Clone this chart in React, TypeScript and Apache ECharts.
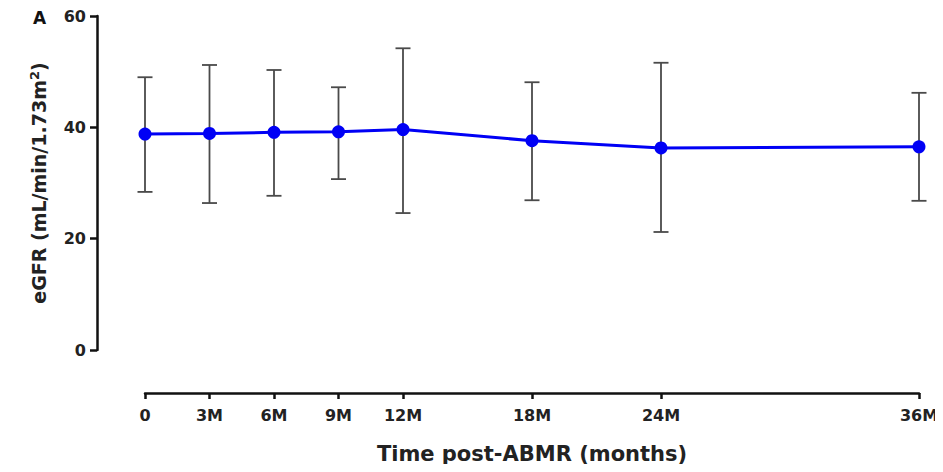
import React, { useEffect, useRef } from "react";
import * as echarts from "echarts";

const months = [0, 3, 6, 9, 12, 18, 24, 36];
const tickLabels: Record<number, string> = { 0: "0", 3: "3M", 6: "6M", 9: "9M", 12: "12M", 18: "18M", 24: "24M", 36: "36M" };
const meanValues = [38.8, 38.9, 39.1, 39.2, 39.6, 37.6, 36.3, 36.5];
const upperValues = [49.0, 51.2, 50.3, 47.2, 54.2, 48.1, 51.6, 46.2];
const lowerValues = [28.4, 26.4, 27.7, 30.7, 24.6, 26.9, 21.2, 26.8];
const yTicks = [0, 20, 40, 60];

export default function App() {
  const ref = useRef<HTMLDivElement>(null);
  useEffect(() => {
    if (!ref.current) return;
    const chart = echarts.init(ref.current, undefined, { renderer: "svg" });
    const font = "'DejaVu Sans', sans-serif";
    const axisColor = "#111";
    const textColor = "#222";
    const errData = months.map((m, i) => [m, lowerValues[i], upperValues[i]]);
    const hidden = {
      axisLine: { show: false },
      axisTick: { show: false },
      axisLabel: { show: false },
      splitLine: { show: false },
    };
    chart.setOption({
      animation: false,
      backgroundColor: "#fff",
      grid: [
        { left: 145, right: 24, top: 16, bottom: 122, containLabel: false },
        { left: 97, width: 2, top: 16, bottom: 122, containLabel: false },
        { left: 145, right: 24, top: 380, bottom: 79, containLabel: false },
      ],
      graphic: [
        {
          type: "text",
          left: 33,
          top: 9,
          style: { text: "A", font: `bold 17px ${font}`, fill: "#111" },
        },
      ],
      xAxis: [
        { type: "value", gridIndex: 0, min: 0, max: 36, ...hidden },
        { type: "value", gridIndex: 1, min: 0, max: 1, ...hidden },
        {
          type: "value",
          gridIndex: 2,
          min: 0,
          max: 36,
          position: "bottom",
          axisLine: { show: true, lineStyle: { color: axisColor, width: 2.5 } },
          axisTick: { show: true, length: 6, lineStyle: { color: axisColor, width: 2.5 }, customValues: months },
          axisLabel: {
            customValues: months,
            formatter: (v: number) => tickLabels[v] ?? "",
            fontFamily: font,
            fontWeight: "bold",
            fontSize: 16,
            color: textColor,
            margin: 14,
          },
          splitLine: { show: false },
          name: "Time post-ABMR (months)",
          nameLocation: "middle",
          nameGap: 50,
          nameTextStyle: { fontFamily: font, fontWeight: "bold", fontSize: 21, color: textColor },
        },
      ],
      yAxis: [
        { type: "value", gridIndex: 0, min: 0, max: 60, ...hidden },
        {
          type: "value",
          gridIndex: 1,
          min: 0,
          max: 60,
          interval: 20,
          position: "left",
          axisLine: { show: true, lineStyle: { color: axisColor, width: 2.5 } },
          axisTick: { show: true, length: 7, lineStyle: { color: axisColor, width: 2.5 } },
          axisLabel: {
            formatter: (v: number) => (yTicks.includes(v) ? String(v) : ""),
            fontFamily: font,
            fontWeight: "bold",
            fontSize: 16,
            color: textColor,
            margin: 11,
          },
          splitLine: { show: false },
          name: "{a|eGFR (mL/min/1.73m}{s|2}{a|)}",
          nameLocation: "middle",
          nameGap: 48,
          nameTextStyle: {
            rich: {
              a: { fontFamily: font, fontWeight: "bold", fontSize: 19, color: textColor },
              s: { fontFamily: font, fontWeight: "bold", fontSize: 13, color: textColor, verticalAlign: "top", padding: [0, 0, 8, 0] },
            },
          },
        },
        { type: "value", gridIndex: 2, min: 0, max: 1, ...hidden },
      ],
      series: [
        {
          type: "custom",
          xAxisIndex: 0,
          yAxisIndex: 0,
          data: errData,
          z: 1,
          renderItem: (params: any, api: any) => {
            const x = api.value(0);
            const lo = api.coord([x, api.value(1)]);
            const hi = api.coord([x, api.value(2)]);
            const hw = 7.5;
            const style = { stroke: "#4a4a4a", lineWidth: 1.8 };
            return {
              type: "group",
              children: [
                { type: "line", shape: { x1: lo[0], y1: lo[1], x2: hi[0], y2: hi[1] }, style },
                { type: "line", shape: { x1: hi[0] - hw, y1: hi[1], x2: hi[0] + hw, y2: hi[1] }, style },
                { type: "line", shape: { x1: lo[0] - hw, y1: lo[1], x2: lo[0] + hw, y2: lo[1] }, style },
              ],
            };
          },
        },
        {
          type: "line",
          xAxisIndex: 0,
          yAxisIndex: 0,
          data: months.map((m, i) => [m, meanValues[i]]),
          z: 3,
          symbol: "circle",
          symbolSize: 13,
          lineStyle: { color: "#0000f5", width: 3 },
          itemStyle: { color: "#0000f5" },
        },
      ],
    });
    return () => chart.dispose();
  }, []);
  return <div ref={ref} style={{ width: 943, height: 472, margin: -8 }} />;
}
